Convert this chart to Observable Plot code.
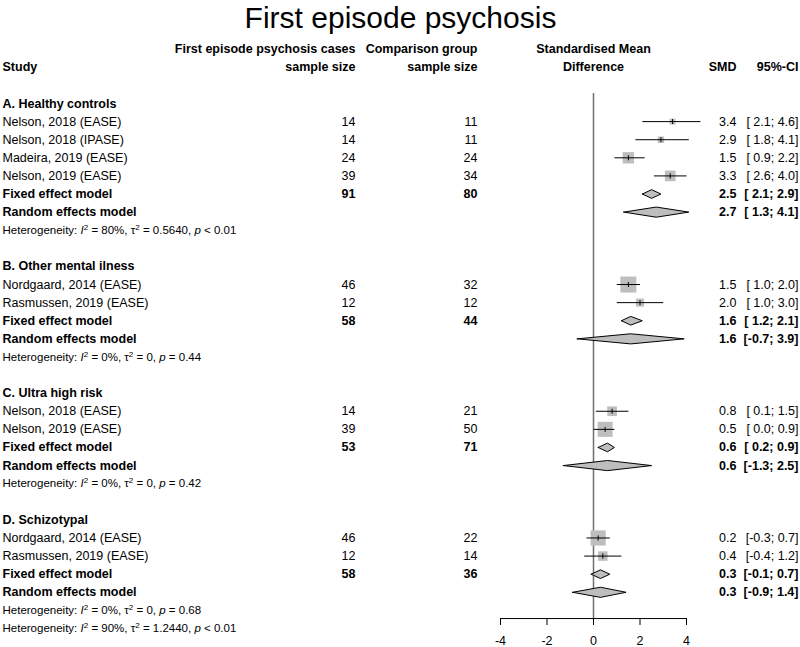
<!DOCTYPE html>
<html>
<head>
<meta charset="utf-8">
<script src="https://cdn.jsdelivr.net/npm/d3@7"></script>
<script src="https://cdn.jsdelivr.net/npm/@observablehq/plot@0.6"></script>
<style>
  html, body { margin: 0; padding: 0; background: #fff; }
</style>
</head>
<body>
<div id="chart"></div>
<script>
// ---------- data ----------
const chartTitle = "First episode psychosis";
const groupLabels = ["A. Healthy controls", "B. Other mental ilness", "C. Ultra high risk", "D. Schizotypal"];
const studyNames = [
  "Nelson, 2018 (EASE)", "Nelson, 2018 (IPASE)", "Madeira, 2019 (EASE)", "Nelson, 2019 (EASE)",
  "Nordgaard, 2014 (EASE)", "Rasmussen, 2019 (EASE)",
  "Nelson, 2018 (EASE)", "Nelson, 2019 (EASE)",
  "Nordgaard, 2014 (EASE)", "Rasmussen, 2019 (EASE)"
];
const studyGroup  = [0, 0, 0, 0, 1, 1, 2, 2, 3, 3];
const casesN      = [14, 14, 24, 39, 46, 12, 14, 39, 46, 12];
const comparisonN = [11, 11, 24, 34, 32, 12, 21, 50, 22, 14];
const studySmd    = [3.4, 2.9, 1.5, 3.3, 1.5, 2.0, 0.8, 0.5, 0.2, 0.4];
const studyLower  = [2.1, 1.8, 0.9, 2.6, 1.0, 1.0, 0.1, 0.0, -0.3, -0.4];
const studyUpper  = [4.6, 4.1, 2.2, 4.0, 2.0, 3.0, 1.5, 0.9, 0.7, 1.2];
const studyWeight = [10.9, 13.0, 40.8, 35.3, 80.0, 20.0, 29.3, 70.7, 72.0, 28.0]; // % within subgroup

const fixedCases = [91, 58, 53, 58];
const fixedComp  = [80, 44, 71, 36];
const fixedSmd   = [2.5, 1.6, 0.6, 0.3];
const fixedLower = [2.1, 1.2, 0.2, -0.1];
const fixedUpper = [2.9, 2.1, 0.9, 0.7];

const randomSmd   = [2.7, 1.6, 0.6, 0.3];
const randomLower = [1.3, -0.7, -1.3, -0.9];
const randomUpper = [4.1, 3.9, 2.5, 1.4];

const hetI2   = ["80%", "0%", "0%", "0%"];
const hetTau2 = ["0.5640", "0", "0", "0"];
const hetP    = ["< 0.01", "= 0.44", "= 0.42", "= 0.68"];
const overallHet = {i2: "90%", tau2: "1.2440", p: "< 0.01"};

const headerLine1 = ["First episode psychosis cases", "Comparison group", "Standardised Mean"];
const headerLine2 = ["Study", "sample size", "sample size", "Difference", "SMD", "95%-CI"];
const xTicks = [-4, -2, 0, 2, 4];

// ---------- build rows ----------
const fmt = v => v.toFixed(1);
const ciText = (lo, hi) => "[" + (lo < 0 ? "" : " ") + fmt(lo) + "; " + fmt(hi) + "]";
const hetText = (i2, t2, p) => `Heterogeneity: I^2 = ${i2}, τ^2 = ${t2}, p ${p}`;

const groupRows = [], studyRows = [], fixedRows = [], randomRows = [], hetRows = [];
let row = 0;
groupLabels.forEach((g, gi) => {
  groupRows.push({row, label: g});
  row++;
  studyNames.forEach((s, i) => {
    if (studyGroup[i] !== gi) return;
    studyRows.push({row, label: s, cases: casesN[i], comp: comparisonN[i],
      smd: studySmd[i], lo: studyLower[i], hi: studyUpper[i], w: studyWeight[i]});
    row++;
  });
  fixedRows.push({row, label: "Fixed effect model", cases: fixedCases[gi], comp: fixedComp[gi],
    smd: fixedSmd[gi], lo: fixedLower[gi], hi: fixedUpper[gi]});
  row++;
  randomRows.push({row, label: "Random effects model",
    smd: randomSmd[gi], lo: randomLower[gi], hi: randomUpper[gi]});
  row++;
  hetRows.push({row, label: hetText(hetI2[gi], hetTau2[gi], hetP[gi])});
  row++;
  if (gi < groupLabels.length - 1) row++;
});
hetRows.push({row, label: hetText(overallHet.i2, overallHet.tau2, overallHet.p)});

// diamonds as closed polygons
const diamonds = [];
fixedRows.forEach((d, i) => {
  const h = 0.24;
  [[d.lo, d.row], [d.smd, d.row - h], [d.hi, d.row], [d.smd, d.row + h], [d.lo, d.row]]
    .forEach(([x, y]) => diamonds.push({id: "f" + i, x, y}));
});
randomRows.forEach((d, i) => {
  const h = 0.28;
  [[d.lo, d.row], [d.smd, d.row - h], [d.hi, d.row], [d.smd, d.row + h], [d.lo, d.row]]
    .forEach(([x, y]) => diamonds.push({id: "r" + i, x, y}));
});

// ---------- layout ----------
const FONT = "'Liberation Sans', Arial, Helvetica, sans-serif";
const FS = 12.5, HFS = 11.5;
const COL = {study: 2, cases: 355, comp: 477, diff: 593, smd: 736, ci: 798};
const H1 = -3, H2 = -2;
const axisRow = 28.45, topRow = -0.55;

const txt = (data, opts) => Plot.text(data, {frameAnchor: "left", lineAnchor: "middle", fontSize: FS, fill: "black", ...opts});

const plot = Plot.plot({
  width: 800, height: 647,
  marginTop: 0, marginLeft: 0, marginRight: 0, marginBottom: 29,
  style: {fontFamily: FONT, background: "white", color: "black"},
  x: {domain: [-4, 4], range: [500, 686]},
  y: {domain: [0, 29], range: [103, 628], axis: null},
  r: {type: "sqrt", domain: [0, 80], range: [0, 16 / Math.sqrt(Math.PI)]},
  marks: [
    // title
    Plot.text([chartTitle], {text: d => d, frameAnchor: "top", lineAnchor: "middle", textAnchor: "middle", dy: 18, fontSize: 30, fill: "black"}),
    // headers
    txt([headerLine1[0]], {text: d => d, y: () => H1, dx: COL.cases, textAnchor: "end", fontWeight: "bold"}),
    txt([headerLine1[1]], {text: d => d, y: () => H1, dx: COL.comp, textAnchor: "end", fontWeight: "bold"}),
    txt([headerLine1[2]], {text: d => d, y: () => H1, dx: COL.diff, textAnchor: "middle", fontWeight: "bold"}),
    txt([headerLine2[0]], {text: d => d, y: () => H2, dx: COL.study, textAnchor: "start", fontWeight: "bold"}),
    txt([headerLine2[1]], {text: d => d, y: () => H2, dx: COL.cases, textAnchor: "end", fontWeight: "bold"}),
    txt([headerLine2[2]], {text: d => d, y: () => H2, dx: COL.comp, textAnchor: "end", fontWeight: "bold"}),
    txt([headerLine2[3]], {text: d => d, y: () => H2, dx: COL.diff, textAnchor: "middle", fontWeight: "bold"}),
    txt([headerLine2[4]], {text: d => d, y: () => H2, dx: COL.smd, textAnchor: "end", fontWeight: "bold"}),
    txt([headerLine2[5]], {text: d => d, y: () => H2, dx: COL.ci, textAnchor: "end", fontWeight: "bold"}),

    // zero reference line
    Plot.ruleX([0], {y1: topRow, y2: axisRow, stroke: "#707070", strokeWidth: 1.5}),
    // axis line
    Plot.ruleY([axisRow], {x1: -4, x2: 4, stroke: "black"}),
    Plot.axisX({ticks: xTicks, tickSize: 7, tickPadding: 11, fontSize: FS, tickFormat: d => String(d), anchor: "bottom", label: null}),

    // group labels
    txt(groupRows, {y: "row", text: "label", dx: COL.study, textAnchor: "start", fontWeight: "bold"}),
    // studies
    txt(studyRows, {y: "row", text: "label", dx: COL.study, textAnchor: "start"}),
    txt(studyRows, {y: "row", text: d => String(d.cases), dx: COL.cases, textAnchor: "end"}),
    txt(studyRows, {y: "row", text: d => String(d.comp), dx: COL.comp, textAnchor: "end"}),
    txt(studyRows, {y: "row", text: d => fmt(d.smd), dx: COL.smd, textAnchor: "end"}),
    txt(studyRows, {y: "row", text: d => ciText(d.lo, d.hi), dx: COL.ci, textAnchor: "end"}),
    Plot.dot(studyRows, {x: "smd", y: "row", r: "w", symbol: "square", fill: "#bebebe", stroke: "none"}),
    Plot.link(studyRows, {x1: "lo", x2: "hi", y1: "row", y2: "row", stroke: "black", strokeWidth: 1}),
    Plot.link(studyRows, {x1: "smd", x2: "smd", y1: d => d.row - 0.14, y2: d => d.row + 0.14, stroke: "black", strokeWidth: 1}),
    // fixed
    txt(fixedRows, {y: "row", text: "label", dx: COL.study, textAnchor: "start", fontWeight: "bold"}),
    txt(fixedRows, {y: "row", text: d => String(d.cases), dx: COL.cases, textAnchor: "end", fontWeight: "bold"}),
    txt(fixedRows, {y: "row", text: d => String(d.comp), dx: COL.comp, textAnchor: "end", fontWeight: "bold"}),
    txt(fixedRows, {y: "row", text: d => fmt(d.smd), dx: COL.smd, textAnchor: "end", fontWeight: "bold"}),
    txt(fixedRows, {y: "row", text: d => ciText(d.lo, d.hi), dx: COL.ci, textAnchor: "end", fontWeight: "bold"}),
    // random
    txt(randomRows, {y: "row", text: "label", dx: COL.study, textAnchor: "start", fontWeight: "bold"}),
    txt(randomRows, {y: "row", text: d => fmt(d.smd), dx: COL.smd, textAnchor: "end", fontWeight: "bold"}),
    txt(randomRows, {y: "row", text: d => ciText(d.lo, d.hi), dx: COL.ci, textAnchor: "end", fontWeight: "bold"}),
    // diamonds
    Plot.line(diamonds, {x: "x", y: "y", z: "id", fill: "#bebebe", stroke: "black", strokeWidth: 1, strokeLinejoin: "miter"}),
    // heterogeneity
    txt(hetRows, {y: "row", text: "label", dx: COL.study, textAnchor: "start", fontSize: HFS})
  ]
});

// rich formatting of heterogeneity lines (italic I, superscripts, italic p)
const NS = "http://www.w3.org/2000/svg";
plot.querySelectorAll("text").forEach(t => {
  const s = t.textContent;
  const m = s.match(/^Heterogeneity: I\^2 = (.*), τ\^2 = (.*), p (.*)$/);
  if (!m) return;
  while (t.firstChild) t.removeChild(t.firstChild);
  const parts = [
    ["Heterogeneity: ", {}],
    ["I", {"font-style": "italic"}],
    ["2", {"baseline-shift": "super", "font-size": "70%"}],
    [" = " + m[1] + ", τ", {}],
    ["2", {"baseline-shift": "super", "font-size": "70%"}],
    [" = " + m[2] + ", ", {}],
    ["p", {"font-style": "italic"}],
    [" " + m[3], {}]
  ];
  parts.forEach(([str, attrs]) => {
    const ts = document.createElementNS(NS, "tspan");
    for (const k in attrs) ts.setAttribute(k, attrs[k]);
    ts.textContent = str;
    t.appendChild(ts);
  });
});

document.getElementById("chart").appendChild(plot);
</script>
</body>
</html>
